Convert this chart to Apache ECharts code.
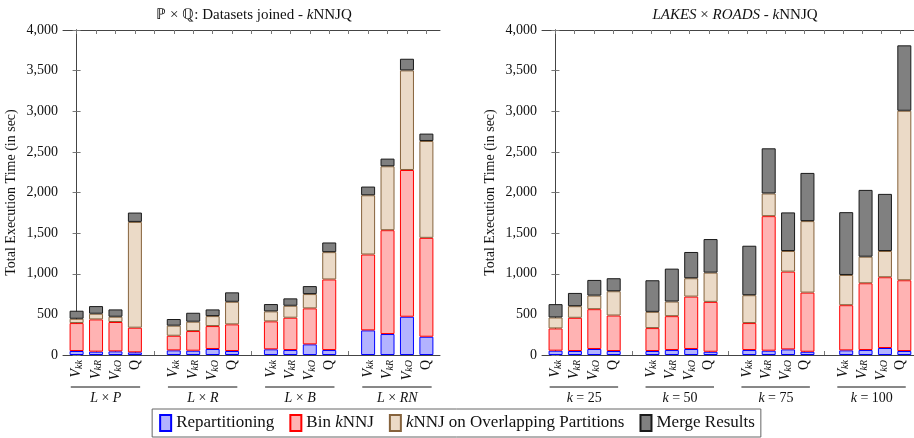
<!DOCTYPE html>
<html>
<head>
<meta charset="utf-8">
<script src="https://cdn.jsdelivr.net/npm/echarts@6/dist/echarts.min.js"></script>
<style>
  html, body { margin: 0; padding: 0; background: #ffffff; }
  #chart { width: 914px; height: 438px; }
</style>
</head>
<body>
<div id="chart"></div>
<script>
// Bar categories inside each group, and group captions
const barLabels = ['Vkk', 'VkR', 'VkO', 'Q'];
const leftGroups = ['L × P', 'L × R', 'L × B', 'L × RN'];
const rightGroups = ['k = 25', 'k = 50', 'k = 75', 'k = 100'];
const seriesNames = ['Repartitioning', 'Bin kNNJ', 'kNNJ on Overlapping Partitions', 'Merge Results'];

// Left chart (datasets joined), 4 groups x 4 methods, seconds per phase
const leftRepartitioning = [49, 41, 45, 33,   57, 53, 74, 49,   70, 61, 131, 61,   303, 258, 471, 225];
const leftBinKnnj        = [344, 397, 361, 303,   180, 242, 282, 328,   344, 398, 443, 869,   934, 1278, 1806, 1217];
const leftOverlapping    = [53, 70, 65, 1302,   124, 115, 123, 278,   123, 147, 176, 336,   729, 787, 1226, 1192];
const leftMerge          = [99, 94, 90, 115,   82, 110, 82, 116,   90, 91, 98, 119,   107, 94, 143, 91];

// Right chart (LAKES x ROADS for varying k)
const rightRepartitioning = [53, 49, 74, 49,   49, 61, 74, 40,   61, 53, 69, 40,   57, 61, 86, 49];
const rightBinKnnj        = [274, 409, 490, 437,   282, 417, 645, 614,   332, 1656, 957, 728,   556, 822, 871, 871];
const rightOverlapping    = [135, 143, 167, 299,   200, 180, 226, 360,   343, 279, 254, 880,   372, 327, 323, 2086];
const rightMerge          = [164, 163, 193, 160,   389, 405, 323, 413,   609, 556, 475, 593,   773, 822, 703, 805];

const SERIF = 'Liberation Serif';
const INK = '#111111';
const GAP = 1;                              // empty slot between groups
const SLOT = barLabels.length + GAP;        // slots per group
const NSLOTS = 4 * SLOT - GAP;              // 19 slots on each chart
const X_PAD = 0.7;                          // frame padding, in slots
const X_MIN = -X_PAD, X_MAX = NSLOTS - 1 + X_PAD;

// frame geometry (shared by both panels)
const FRAME_TOP = 30, FRAME_H = 325, FRAME_W = 377;
const FRAME_LEFT = [63, 542];
const SLOT_W = FRAME_W / (X_MAX - X_MIN);

// slot index of each bar, group centres, category names per slot
const barPos = [];
const groupCenters = [];
for (let g = 0; g < 4; g++) {
  for (let b = 0; b < barLabels.length; b++) barPos.push(g * SLOT + b);
  groupCenters.push(g * SLOT + (barLabels.length - 1) / 2);
}
const allTicks = [];
const slotNames = [];
for (let i = 0; i < NSLOTS; i++) {
  allTicks.push(i);
  slotNames.push(i % SLOT < barLabels.length ? barLabels[i % SLOT] + '#' + Math.floor(i / SLOT) : 'gap' + i);
}

const styles = [
  { color: '#b3b3ff', borderColor: '#0000ff' },
  { color: '#ffb3b3', borderColor: '#ff0000' },
  { color: '#ebdac7', borderColor: '#86633d' },
  { color: '#808080', borderColor: '#1a1a1a' }
];

const richLabel = {
  v: { fontFamily: SERIF, fontStyle: 'italic', fontSize: 14, color: INK },
  s: { fontFamily: SERIF, fontStyle: 'italic', fontSize: 10, color: INK, verticalAlign: 'bottom', padding: [5, 0, 0, 0] },
  q: { fontFamily: SERIF, fontSize: 14, color: INK },
  i: { fontFamily: SERIF, fontStyle: 'italic', fontSize: 14, color: INK },
  n: { fontFamily: SERIF, fontSize: 14, color: INK }
};

function barLabelText(name) {
  if (name === 'Q') return '{q|Q}';
  return '{v|V}{s|' + name.slice(1) + '}';
}
function groupLabelText(name) {
  // italic letters, upright operators and digits
  return name.split(' ').map(function (part) {
    if (/^[A-Za-z]+$/.test(part)) return '{i|' + part + '}';
    return '{n|' + part + '}';
  }).join('{n| }');
}

const axisColor = '#444444';
const tickColor = '#777777';

// Frame axes: value scale over slot positions, used for ticks and labels
function frameXAxes(gridIndex, groups) {
  return [
    {
      type: 'value', gridIndex: gridIndex, position: 'bottom', min: X_MIN, max: X_MAX,
      axisLine: { show: true, onZero: false, lineStyle: { color: axisColor, width: 1 } },
      axisTick: { show: true, inside: true, length: 4, customValues: allTicks, lineStyle: { color: tickColor } },
      axisLabel: {
        show: true, rotate: 90, margin: 5, customValues: barPos,
        formatter: function (v) { return barLabelText(barLabels[Math.round(v) % SLOT]); },
        rich: richLabel
      },
      splitLine: { show: false }
    },
    {
      type: 'value', gridIndex: gridIndex, position: 'top', min: X_MIN, max: X_MAX,
      axisLine: { show: true, onZero: false, lineStyle: { color: axisColor, width: 1 } },
      axisTick: { show: true, inside: true, length: 4, customValues: allTicks, lineStyle: { color: tickColor } },
      axisLabel: { show: false },
      splitLine: { show: false }
    },
    {
      type: 'value', gridIndex: gridIndex, position: 'bottom', min: X_MIN, max: X_MAX,
      axisLine: { show: false }, axisTick: { show: false },
      axisLabel: {
        show: true, margin: 36, customValues: groupCenters,
        formatter: function (v) { return groupLabelText(groups[Math.round((v - groupCenters[0]) / SLOT)]); },
        rich: richLabel
      },
      splitLine: { show: false }
    }
  ];
}
function frameYAxes(gridIndex) {
  return [
    {
      type: 'value', gridIndex: gridIndex, position: 'left', min: 0, max: 4000, interval: 500,
      name: 'Total Execution Time (in sec)', nameLocation: 'middle', nameGap: 45,
      nameTextStyle: { fontFamily: SERIF, fontSize: 14, color: INK },
      axisLine: { show: true, lineStyle: { color: axisColor, width: 1 } },
      axisTick: { show: true, inside: true, length: 4, lineStyle: { color: tickColor } },
      axisLabel: {
        fontFamily: SERIF, fontSize: 14, color: INK, margin: 5,
        formatter: function (v) { return v.toLocaleString('en-US'); }
      },
      splitLine: { show: false }
    },
    {
      type: 'value', gridIndex: gridIndex, position: 'right', min: 0, max: 4000, interval: 500,
      axisLine: { show: true, lineStyle: { color: axisColor, width: 1 } },
      axisTick: { show: true, inside: true, length: 4, lineStyle: { color: tickColor } },
      axisLabel: { show: false },
      splitLine: { show: false }
    }
  ];
}
// Bar axes: hidden category scale, one category per slot
function barXAxis(gridIndex) {
  return { type: 'category', gridIndex: gridIndex, data: slotNames, show: false };
}
function barYAxis(gridIndex) {
  return { type: 'value', gridIndex: gridIndex, min: 0, max: 4000, show: false, splitLine: { show: false } };
}

function seriesFor(xIdx, yIdx, stackKey, lists) {
  return lists.map(function (vals, k) {
    const slots = slotNames.map(function () { return '-'; });
    vals.forEach(function (v, i) { slots[barPos[i]] = v; });
    return {
      name: seriesNames[k], type: 'bar', stack: stackKey,
      xAxisIndex: xIdx, yAxisIndex: yIdx,
      barWidth: 14,
      itemStyle: { color: styles[k].color, borderColor: styles[k].borderColor, borderWidth: 1 },
      emphasis: { disabled: true },
      data: slots
    };
  });
}

const chart = echarts.init(document.getElementById('chart'), null, { renderer: 'canvas' });

const titleRich = {
  n: { fontFamily: SERIF, fontSize: 15, fontWeight: 'normal', color: INK },
  i: { fontFamily: SERIF, fontStyle: 'italic', fontSize: 15, fontWeight: 'normal', color: INK }
};

// Each panel: a frame grid carrying the axes, and a bar grid whose
// category bands start half a slot before slot 0
const grids = [];
FRAME_LEFT.forEach(function (left) {
  grids.push({ left: left, top: FRAME_TOP, width: FRAME_W, height: FRAME_H });
  grids.push({ left: left + (X_PAD - 0.5) * SLOT_W, top: FRAME_TOP, width: NSLOTS * SLOT_W, height: FRAME_H });
});

const option = {
  animation: false,
  backgroundColor: '#ffffff',
  title: [
    { text: '{n|ℙ × ℚ: Datasets joined - }{i|k}{n|NNJQ}', left: 249, top: 3, textAlign: 'center', textStyle: { rich: titleRich } },
    { text: '{i|LAKES}{n| × }{i|ROADS}{n| - }{i|k}{n|NNJQ}', left: 730, top: 3, textAlign: 'center', textStyle: { rich: titleRich } }
  ],
  legend: {
    data: seriesNames, bottom: 1, left: 'center',
    icon: 'rect', itemWidth: 11, itemHeight: 16, itemGap: 15,
    borderColor: '#666666', borderWidth: 1, padding: [5, 6, 5, 7],
    selectedMode: false,
    formatter: function (name) { return name.replace(/k(?=NNJ)/, '{i|k}'); },
    textStyle: {
      fontFamily: SERIF, fontSize: 17, color: INK,
      rich: { i: { fontFamily: SERIF, fontStyle: 'italic', fontSize: 17, color: INK } }
    }
  },
  grid: grids,
  xAxis: frameXAxes(0, leftGroups).concat([barXAxis(1)], frameXAxes(2, rightGroups), [barXAxis(3)]),
  yAxis: frameYAxes(0).concat([barYAxis(1)], frameYAxes(2), [barYAxis(3)]),
  series: seriesFor(3, 2, 'left', [leftRepartitioning, leftBinKnnj, leftOverlapping, leftMerge])
    .concat(seriesFor(7, 5, 'right', [rightRepartitioning, rightBinKnnj, rightOverlapping, rightMerge]))
};

chart.setOption(option);

// Underline each group of bar labels, placed through the frame axis scale
const underlines = [];
[[0, 0], [4, 3]].forEach(function (idx) {
  const yBase = chart.convertToPixel({ yAxisIndex: idx[1] }, 0);
  for (let g = 0; g < 4; g++) {
    const x1 = chart.convertToPixel({ xAxisIndex: idx[0] }, g * SLOT - 0.3);
    const x2 = chart.convertToPixel({ xAxisIndex: idx[0] }, g * SLOT + barLabels.length - 1 + 0.27);
    underlines.push({
      type: 'line', silent: true,
      shape: { x1: x1, y1: yBase + 32, x2: x2, y2: yBase + 32 },
      style: { stroke: INK, lineWidth: 1 }
    });
  }
});
chart.setOption({ graphic: underlines });
</script>
</body>
</html>
